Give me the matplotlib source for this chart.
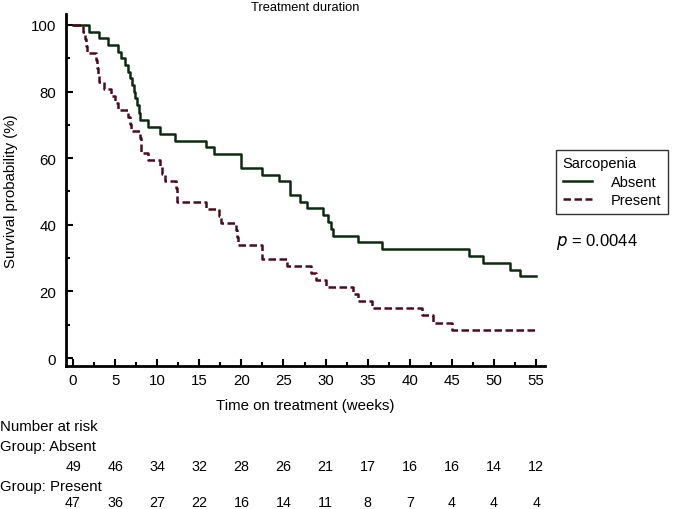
import numpy as np
import matplotlib
matplotlib.use('Agg')
import matplotlib.pyplot as plt
from matplotlib.ticker import MultipleLocator

plt.rcParams['font.family'] = ['Liberation Sans', 'DejaVu Sans']

# Kaplan-Meier curves (time of each step, survival after it)
t_absent = [0, 1.9, 3.1, 4.2, 5.3, 5.7, 6.2, 6.5, 6.8, 7.0, 7.2, 7.4, 7.6, 7.8, 8.0,
            8.9, 10.3, 12.1, 15.8, 16.8, 19.9, 22.4, 24.5, 25.8, 27.0, 27.8, 29.7,
            30.3, 30.6, 30.9, 33.9, 36.7, 47.0, 48.7, 51.9, 53.1, 55.0]
s_absent = [100, 98, 96, 94, 92, 90, 88, 86, 84, 82, 80, 78, 76, 73.5, 71.4,
            69.4, 67.3, 65.3, 63.3, 61.2, 57.1, 55.1, 53.1, 49.0, 46.9, 44.9, 42.9,
            40.8, 38.8, 36.7, 34.7, 32.7, 30.6, 28.6, 26.5, 24.5, 24.5]

t_present = [0, 1.2, 1.4, 1.5, 1.7, 2.75, 2.85, 2.95, 3.1, 3.7, 4.5, 5.0, 5.4, 6.5,
             6.8, 6.9, 8.0, 8.05, 8.1, 8.9, 10.3, 10.6, 10.9, 12.2, 12.3, 12.4,
             15.8, 17.3, 17.6, 19.4, 19.5, 19.6, 22.4, 22.5, 25.4, 28.3, 28.9, 30.1,
             33.3, 33.9, 35.5, 41.4, 42.8, 45.0, 55.0]
s_present = [100, 97.9, 95.7, 93.6, 91.5, 89.4, 87.2, 85.1, 83.0, 80.9, 78.7, 76.6,
             74.5, 72.3, 70.2, 68.1, 66.0, 63.8, 61.7, 59.6, 57.4, 55.3, 53.2, 51.1,
             48.9, 46.8, 44.7, 42.6, 40.4, 38.3, 36.2, 34.0, 31.9, 29.8, 27.7, 25.5,
             23.4, 21.2, 19.1, 17.0, 14.9, 12.8, 10.6, 8.5, 8.5]

risk_times = [0, 5, 10, 15, 20, 25, 30, 35, 40, 45, 50, 55]
risk_absent = [49, 46, 34, 32, 28, 26, 21, 17, 16, 16, 14, 12]
risk_present = [47, 36, 27, 22, 16, 14, 11, 8, 7, 4, 4, 4]

clr_abs = '#0c2a0e'
clr_pre = '#4e0a1e'
fs = 10.8

fig = plt.figure(figsize=(6.73, 5.10), dpi=100)
ax = fig.add_axes([0.0981, 0.2804, 0.7117, 0.6902])

ax.step(t_absent, s_absent, where='post', color=clr_abs, lw=1.8, label='Absent')
ax.step(t_present, s_present, where='post', color=clr_pre, lw=1.8,
        dashes=(3.0, 1.4), label='Present')

ax.set_xlim(-0.83, 56.06)
ax.set_ylim(-2.4, 103.3)
ax.xaxis.set_major_locator(MultipleLocator(5))
ax.xaxis.set_minor_locator(MultipleLocator(2.5))
ax.yaxis.set_major_locator(MultipleLocator(20))
ax.yaxis.set_minor_locator(MultipleLocator(10))
ax.tick_params(which='both', direction='in', width=1.5, labelsize=fs, colors='black')
ax.tick_params(which='major', length=5)
ax.tick_params(which='minor', length=3)
ax.tick_params(axis='x', pad=5)
ax.tick_params(axis='y', pad=7)
for sp in ['top', 'right']:
    ax.spines[sp].set_visible(False)
for sp in ['left', 'bottom']:
    ax.spines[sp].set_linewidth(2)

ax.set_xlabel('Time on treatment (weeks)', fontsize=fs, labelpad=8)
ax.set_ylabel('Survival probability (%)', fontsize=fs, labelpad=9)
fig.text(0.454, 1 - 8 / 510, 'Treatment duration', ha='center', va='center', fontsize=9.3)

leg = ax.legend(title='Sarcopenia', loc='upper left', bbox_to_anchor=(1.023, 0.614),
                fontsize=10.5, title_fontsize=10.5, frameon=True, fancybox=False,
                edgecolor='black', handlelength=2.0, handletextpad=1.3,
                borderpad=0.45, labelspacing=0.3, borderaxespad=0)
leg._legend_box.align = 'left'
leg.get_frame().set_linewidth(1.0)

fig.text(556 / 673, 1 - 242 / 510, r'$\it{p}$ = 0.0044', fontsize=12, va='center')

# number at risk table
fig.text(0.0, 1 - 427 / 510, 'Number at risk', fontsize=fs, va='center')
fig.text(0.0, 1 - 447 / 510, 'Group: Absent', fontsize=fs, va='center')
fig.text(0.0, 1 - 487 / 510, 'Group: Present', fontsize=fs, va='center')
for x, a, p in zip(risk_times, risk_absent, risk_present):
    xf = fig.transFigure.inverted().transform(ax.transData.transform((x, 0)))[0]
    fig.text(xf, 1 - 467 / 510, str(a), ha='center', va='center', fontsize=10.3)
    fig.text(xf, 1 - 503 / 510, str(p), ha='center', va='center', fontsize=10.3)

fig.savefig('out.png', dpi=100)
